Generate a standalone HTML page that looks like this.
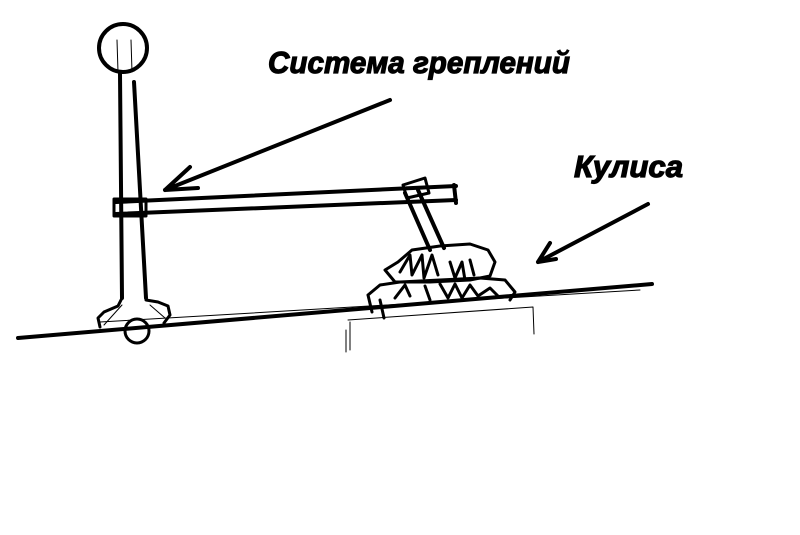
<!DOCTYPE html>
<html><head><meta charset="utf-8"><style>
html,body{margin:0;padding:0;background:#fff;width:800px;height:535px;overflow:hidden}
svg{display:block}
text{font-family:"Liberation Sans",sans-serif;font-weight:bold;font-style:italic;fill:#000;stroke:#000;stroke-width:1.2}
</style></head><body>
<svg width="800" height="535" viewBox="0 0 800 535" xmlns="http://www.w3.org/2000/svg">
<g fill="none" stroke="#000" stroke-linecap="round" stroke-linejoin="round">
<path d="M18 338 L652 284" stroke-width="4"/>
<path d="M100 322 L640 290" stroke-width="1"/>
<path d="M348 320 L533 307 M533 307 L534 334 M350 322 L350 350 M346 330 L346 352" stroke-width="1"/>
<circle cx="123" cy="48" r="24" stroke-width="4"/>
<path d="M120 74 L122 298" stroke-width="4"/>
<path d="M134 82 L146 298" stroke-width="4"/>
<path d="M117 40 L118 72 M131 40 L132 72" stroke-width="1"/>
<path d="M122 298 L118 306 L104 312 L98 318 L100 327 M146 300 L158 302 L168 306 L170 315 L164 323" stroke-width="3"/>
<path d="M104 325 L122 305 M150 305 L165 318" stroke-width="1"/>
<circle cx="137" cy="331" r="12" stroke-width="3"/>
<path d="M116 202 L456 186 M116 214 L456 200" stroke-width="4"/>
<path d="M114 199 L146 199 L146 216 L114 216 Z" stroke-width="3"/>
<path d="M454 185 L456 203" stroke-width="4"/>
<path d="M405 193 L430 250 M418 190 L444 248" stroke-width="4"/>
<path d="M403 185 L425 178 L429 193 L407 198 Z" stroke-width="3"/>
<path d="M398 262 L412 250 L440 246 L470 244 L488 250 L495 262 L490 276 L470 280 L430 282 L395 282 L385 270 Z" stroke-width="3"/>
<path d="M368 295 L380 285 L400 282 L440 280 L480 278 L505 280 L515 292 L510 300 M368 295 L372 312 M380 300 L384 318" stroke-width="3"/>
<path d="M400 272 L410 255 L412 275 L422 255 L424 278 L432 255 L438 275 M450 262 L455 278 L462 262 L465 280 M470 260 L474 275" stroke-width="3"/>
<path d="M395 298 L405 285 L410 296 M425 286 L430 300 M440 284 L448 298 L455 284 L462 298 L470 285 L478 296 L490 288 L498 296" stroke-width="3"/>
<path d="M390 100 L165 190 M165 190 L190 167 M165 190 L198 188" stroke-width="4"/>
<path d="M648 204 L538 262 M538 262 L550 243 M538 262 L556 259" stroke-width="4"/>
</g>
<text x="268" y="73" font-size="31" textLength="302" lengthAdjust="spacingAndGlyphs">Система греплений</text>
<text x="574" y="177" font-size="31" textLength="109" lengthAdjust="spacingAndGlyphs">Кулиса</text>
</svg>
</body></html>
